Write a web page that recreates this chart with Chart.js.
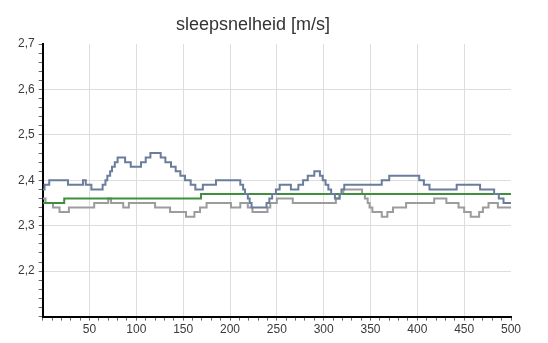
<!DOCTYPE html>
<html>
<head>
<meta charset="utf-8">
<script src="https://cdn.jsdelivr.net/npm/chart.js@4/dist/chart.umd.min.js"></script>
<style>
  html, body { margin: 0; padding: 0; background: #ffffff; }
  #wrap { width: 548px; height: 343px; }
</style>
</head>
<body>
<div id="wrap"><canvas id="c" width="548" height="343"></canvas></div>
<script>
// Chart title and axis tick labels
const chartTitle = 'sleepsnelheid [m/s]';
const xTickLabels = ['50', '100', '150', '200', '250', '300', '350', '400', '450', '500'];
const yTickLabels = ['2,2', '2,3', '2,4', '2,5', '2,6', '2,7'];

// Blue series: position where each level starts, and the level (m/s)
const blueX = [0, 2, 7, 27, 43, 46, 52, 64, 67, 69, 72, 74, 77, 80, 88, 94, 105, 110, 115,
  126, 131, 137, 142, 147, 152, 158, 163, 171, 185, 211, 214, 216, 219, 221, 223, 239, 242,
  245, 249, 253, 265, 273, 278, 283, 290, 296, 299, 302, 305, 308, 312, 317, 319, 322, 362,
  370, 402, 407, 413, 442, 467, 482, 487, 492, 500];
const blueY = [2.38, 2.39, 2.40, 2.39, 2.40, 2.39, 2.38, 2.39, 2.40, 2.41, 2.42, 2.43, 2.44, 2.45, 2.44, 2.43, 2.44, 2.45, 2.46,
  2.45, 2.44, 2.43, 2.42, 2.41, 2.40, 2.39, 2.38, 2.39, 2.40, 2.39, 2.38, 2.37, 2.36, 2.35, 2.34, 2.35, 2.36,
  2.37, 2.38, 2.39, 2.38, 2.39, 2.40, 2.41, 2.42, 2.41, 2.40, 2.39, 2.38, 2.37, 2.36, 2.37, 2.38, 2.39, 2.40,
  2.41, 2.40, 2.39, 2.38, 2.39, 2.38, 2.37, 2.36, 2.35, 2.35];

// Green series
const greenX = [0, 23, 169, 500];
const greenY = [2.35, 2.36, 2.37, 2.37];

// Grey series
const greyX = [0, 3, 11, 18, 28, 55, 70, 73, 86, 92, 120, 136, 153, 162, 168, 175, 201, 211, 219,
  224, 240, 243, 250, 267, 313, 317, 321, 341, 344, 347, 349, 352, 355, 362, 368, 374, 388, 418,
  431, 444, 450, 457, 466, 470, 476, 486, 500];
const greyY = [2.36, 2.35, 2.34, 2.33, 2.34, 2.35, 2.36, 2.35, 2.34, 2.35, 2.34, 2.33, 2.32, 2.33, 2.34, 2.35, 2.34, 2.35, 2.34,
  2.33, 2.34, 2.35, 2.36, 2.35, 2.36, 2.37, 2.38, 2.37, 2.36, 2.35, 2.34, 2.33, 2.33, 2.32, 2.33, 2.34, 2.35, 2.36,
  2.35, 2.34, 2.33, 2.32, 2.33, 2.34, 2.35, 2.34, 2.34];

const toPoints = (xs, ys) => xs.map((x, i) => ({ x: x, y: ys[i] }));

const fontFamily = "'Liberation Sans', Arial, sans-serif";
const labelFont = { family: fontFamily, size: 12 };
const gridColor = '#dddddd';
const tickMarkColor = '#6a6a6a';

function lineSet(points, color) {
  return {
    data: points,
    borderColor: color,
    borderWidth: 2,
    pointRadius: 0,
    stepped: true,
    tension: 0,
    fill: false
  };
}

// Title text, drawn a little left of the plot centre
const titlePlugin = {
  id: 'chartHeading',
  afterDraw(chart) {
    const ctx = chart.ctx;
    ctx.save();
    ctx.font = '18px ' + fontFamily;
    ctx.fillStyle = '#333333';
    ctx.textAlign = 'center';
    ctx.textBaseline = 'middle';
    ctx.fillText(chartTitle, 253, 25);
    ctx.restore();
  }
};

new Chart(document.getElementById('c'), {
  type: 'line',
  data: {
    datasets: [
      lineSet(toPoints(blueX, blueY), '#6a7d9c'),
      lineSet(toPoints(greenX, greenY), '#3f8f3f'),
      lineSet(toPoints(greyX, greyY), '#9c9c9c')
    ]
  },
  plugins: [titlePlugin],
  options: {
    responsive: false,
    animation: false,
    devicePixelRatio: 1,
    layout: { padding: { left: 14, right: 37, top: 44, bottom: 4 } },
    plugins: {
      legend: { display: false },
      tooltip: { enabled: false },
      title: { display: false }
    },
    scales: {
      x: {
        type: 'linear',
        min: 0,
        max: 500,
        border: { display: true, color: '#000000', width: 2 },
        grid: {
          color: (ctx) => {
            const v = ctx.tick ? Math.round(ctx.tick.value) : 0;
            return (v % 50 === 0 && v > 0 && v < 500) ? gridColor : 'rgba(0,0,0,0)';
          },
          tickColor: tickMarkColor,
          tickLength: 4,
          lineWidth: 1
        },
        ticks: {
          stepSize: 10,
          autoSkip: false,
          maxRotation: 0,
          padding: 2,
          color: '#3a3a3a',
          font: labelFont,
          callback: (value) => {
            const v = Math.round(value);
            return (v % 50 === 0 && v > 0) ? xTickLabels[v / 50 - 1] : '';
          }
        }
      },
      y: {
        type: 'linear',
        min: 2.1,
        max: 2.7,
        border: { display: true, color: '#000000', width: 2 },
        grid: {
          color: (ctx) => {
            const k = ctx.tick ? Math.round(ctx.tick.value * 100) : 0;
            return (k % 10 === 0 && k > 210 && k < 270) ? gridColor : 'rgba(0,0,0,0)';
          },
          tickColor: tickMarkColor,
          tickLength: 4,
          lineWidth: 1
        },
        ticks: {
          stepSize: 0.02,
          autoSkip: false,
          padding: 4,
          color: '#3a3a3a',
          font: labelFont,
          callback: (value) => {
            const k = Math.round(value * 100);
            return (k % 10 === 0 && k > 210) ? yTickLabels[k / 10 - 22] : '';
          }
        }
      }
    }
  }
});
</script>
</body>
</html>
